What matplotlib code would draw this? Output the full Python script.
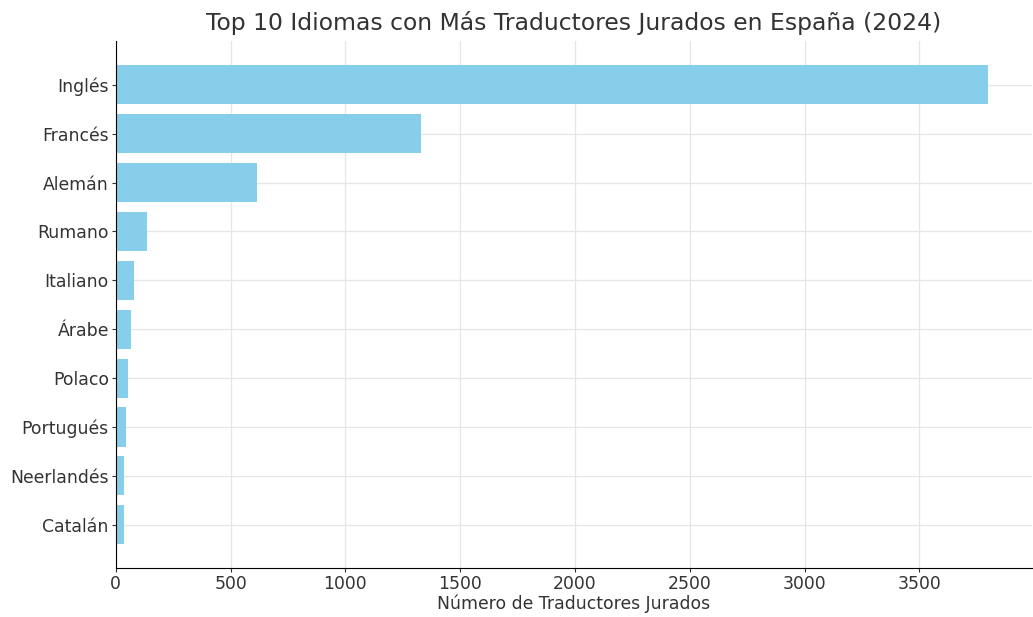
import matplotlib.pyplot as plt

# Traductores jurados por idioma
idiomas = ['Inglés', 'Francés', 'Alemán', 'Rumano', 'Italiano',
           'Árabe', 'Polaco', 'Portugués', 'Neerlandés', 'Catalán']
traductores = [3800, 1330, 615, 135, 80, 65, 55, 45, 38, 36]

fig, ax = plt.subplots(figsize=(10.33, 6.17), dpi=100)
ax.barh(idiomas, traductores, color='skyblue', height=0.8, zorder=2)
ax.invert_yaxis()

ax.set_title('Top 10 Idiomas con Más Traductores Jurados en España (2024)',
             fontsize=16.9, color='#333333', pad=8)
ax.set_xlabel('Número de Traductores Jurados', fontsize=12.4, color='#333333',
              labelpad=1)
ax.tick_params(axis='both', labelsize=12.4, colors='#333333', length=3, pad=2)
ax.grid(True, color='#e6e6e6', linewidth=0.9, zorder=0)
ax.spines['top'].set_visible(False)
ax.spines['right'].set_visible(False)

plt.subplots_adjust(left=0.112, right=0.999, top=0.933, bottom=0.079)
plt.savefig('out.png')
